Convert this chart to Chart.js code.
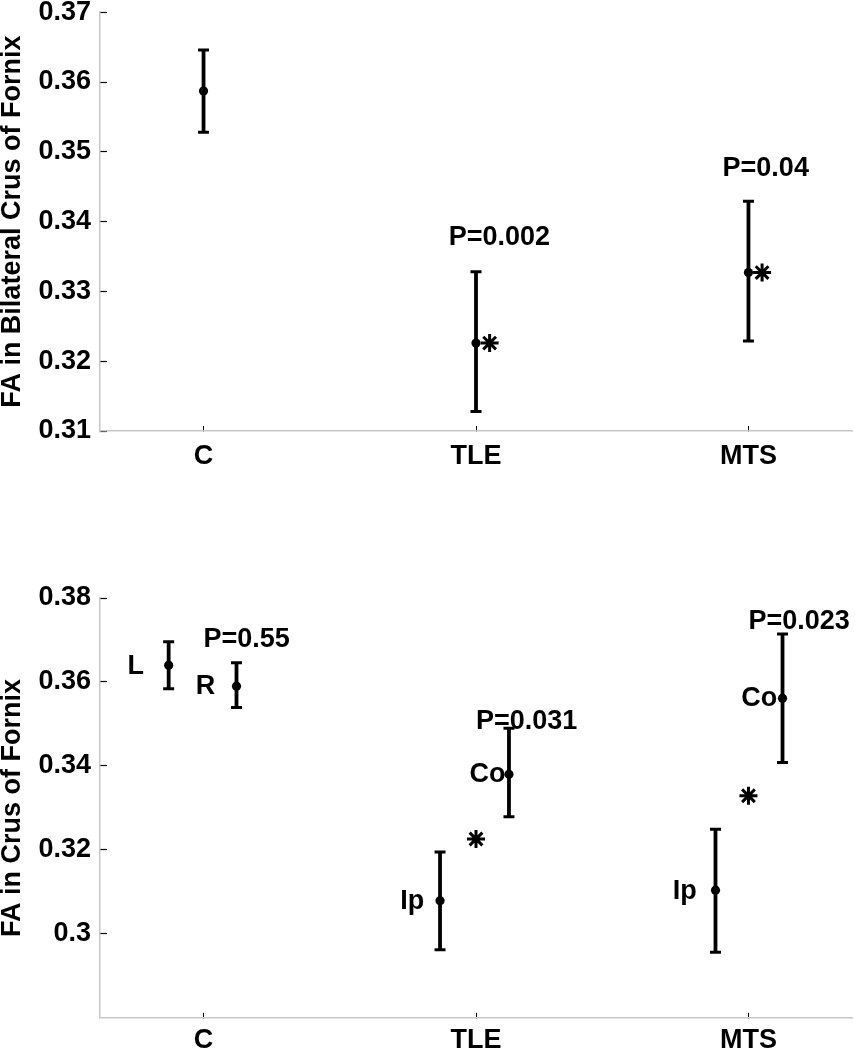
<!DOCTYPE html>
<html>
<head>
<meta charset="utf-8">
<script src="https://cdn.jsdelivr.net/npm/chart.js@4.4.1/dist/chart.umd.min.js"></script>
<style>
body{margin:0;background:#fff;width:855px;height:1050px;position:relative;overflow:hidden}
canvas{position:absolute;left:0}
#topChart{top:-20px}
#bottomChart{top:540px}
</style>
</head>
<body>
<canvas id="topChart" width="855" height="500"></canvas>
<canvas id="bottomChart" width="855" height="510"></canvas>
<script>

/* ============================= */
/* DATA */
/* ============================= */

const groups = ["C","TLE","MTS"]
const groupPos = [1,2,3]

// top: bilateral crus of fornix
const topX = [1,2,3]
const topMean = [0.3587,0.3226,0.3327]
const topLo = [0.3528,0.3128,0.3229]
const topHi = [0.3646,0.3328,0.3429]
const topStarX = [2.05,3.05]
const topStarY = [0.3226,0.3327]
const topYTicks = [0.31,0.32,0.33,0.34,0.35,0.36,0.37]
const topYTickLabels = ["0.31","0.32","0.33","0.34","0.35","0.36","0.37"]
const topNotes = [
{text:"P=0.002",x:1.90,y:0.3377,align:"left"},
{text:"P=0.04",x:2.905,y:0.3476,align:"left"}
]

// bottom: crus of fornix, per side
const botX = [0.872,1.121,1.868,2.121,2.879,3.125]
const botMean = [0.3640,0.3590,0.3079,0.3380,0.3104,0.3561]
const botLo = [0.3584,0.3539,0.2962,0.3279,0.2956,0.3408]
const botHi = [0.3696,0.3646,0.3195,0.3490,0.3249,0.3714]
const botStarX = [2.0,3.0]
const botStarY = [0.3226,0.3329]
const botYTicks = [0.30,0.32,0.34,0.36,0.38]
const botYTickLabels = ["0.3","0.32","0.34","0.36","0.38"]
const botNotes = [
{text:"L",x:0.751,y:0.3636,align:"center"},
{text:"R",x:1.007,y:0.3588,align:"center"},
{text:"P=0.55",x:1.0,y:0.3702,align:"left"},
{text:"Ip",x:1.766,y:0.3076,align:"center"},
{text:"Co",x:2.042,y:0.3379,align:"center"},
{text:"P=0.031",x:2.0,y:0.3505,align:"left"},
{text:"Ip",x:2.766,y:0.3100,align:"center"},
{text:"Co",x:3.04,y:0.3560,align:"center"},
{text:"P=0.023",x:3.0,y:0.3743,align:"left"}
]

const FONT = "'Liberation Sans', Arial, Helvetica, sans-serif"


/* ============================= */
/* TEXT NOTES PLUGIN */
/* ============================= */

const notesPlugin = {
id:"notes",
afterDatasetsDraw(chart,args,opts){
const ctx = chart.ctx
const xs = chart.scales.x, ys = chart.scales.y
ctx.save()
ctx.fillStyle = "#000"
ctx.font = "bold 27px " + FONT
ctx.textBaseline = "middle"
opts.items.forEach(n=>{
ctx.textAlign = n.align
ctx.fillText(n.text, xs.getPixelForValue(n.x), ys.getPixelForValue(n.y))
})
ctx.restore()
}
}


/* ============================= */
/* BUILD ONE PANEL */
/* ============================= */

function makePanel(id,p){

// error bars: one line dataset, gaps between bars
const bars = []
p.x.forEach((x,i)=>{
bars.push({x:x,y:p.lo[i]})
bars.push({x:x,y:p.hi[i]})
bars.push({x:x,y:null})
})

return new Chart(document.getElementById(id),{
type:"line",
data:{
datasets:[
{
data:bars,
borderColor:"#000",
borderWidth:3.8,
spanGaps:false,
pointStyle:"line",
pointRadius:5.5,
pointBorderWidth:3,
pointBorderColor:"#000"
},
{
type:"scatter",
data:p.x.map((x,i)=>({x:x,y:p.mean[i]})),
pointStyle:"circle",
pointRadius:4.6,
backgroundColor:"#000",
borderColor:"#000",
borderWidth:0
},
{
type:"scatter",
data:p.starX.map((x,i)=>({x:x,y:p.starY[i]})),
pointStyle:"star",
pointRadius:9,
borderColor:"#000",
borderWidth:3
}
]
},
options:{
responsive:false,
animation:false,
events:[],
layout:{autoPadding:false,padding:{top:p.padTop,left:0,right:3,bottom:0}},
plugins:{
legend:{display:false},
tooltip:{enabled:false},
notes:{items:p.notes}
},
scales:{
x:{
type:"linear",
min:0.62,
max:3.38,
afterBuildTicks(s){ s.ticks = groupPos.map(v=>({value:v})) },
afterFit(s){
s.height = p.xHeight
s.paddingLeft = 0
s.paddingRight = 0
},
ticks:{
callback:(v)=>groups[groupPos.indexOf(v)],
color:"#000",
font:{family:FONT,size:27,weight:"bold"},
padding:p.xPad,
maxRotation:0,
autoSkip:false
},
grid:{drawOnChartArea:false,tickLength:-5,color:"#000",tickWidth:1},
border:{color:"#c8c8c8",width:1.5}
},
y:{
min:p.ymin,
max:p.ymax,
afterBuildTicks(s){ s.ticks = p.yTicks.map(v=>({value:v})) },
afterFit(s){ s.width = 100 },
ticks:{
callback:(v)=>p.yTickLabels[p.yTicks.indexOf(v)],
color:"#000",
font:{family:FONT,size:27,weight:"bold"},
padding:16
},
grid:{drawOnChartArea:false,tickLength:-7,color:"#000",tickWidth:1.2},
border:{color:"#c8c8c8",width:1.5},
title:{
display:true,
text:p.title,
color:"#000",
font:{family:FONT,size:27,weight:"bold",lineHeight:0.9},
padding:0
}
}
}
},
plugins:[notesPlugin]
})

}


/* ============================= */
/* PANELS */
/* ============================= */

makePanel("topChart",{
x:topX,mean:topMean,lo:topLo,hi:topHi,
starX:topStarX,starY:topStarY,
ymin:0.31,ymax:0.37,
yTicks:topYTicks,yTickLabels:topYTickLabels,
notes:topNotes,
title:"FA in Bilateral Crus of Fornix",
padTop:30,xHeight:49,xPad:14
})

makePanel("bottomChart",{
x:botX,mean:botMean,lo:botLo,hi:botHi,
starX:botStarX,starY:botStarY,
ymin:0.28,ymax:0.38,
yTicks:botYTicks,yTickLabels:botYTickLabels,
notes:botNotes,
title:"FA in Crus of Fornix",
padTop:58,xHeight:32,xPad:12
})

</script>
</body>
</html>
